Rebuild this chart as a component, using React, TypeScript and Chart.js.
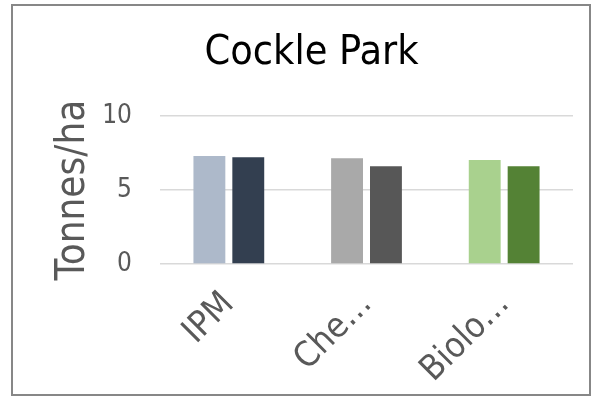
import React, { useEffect, useRef } from "react";
import { Chart, registerables } from "chart.js";

Chart.register(...registerables);

const categories = ["IPM", "Che…", "Biolo…"];
const series1Values = [7.3, 7.15, 7.03];
const series2Values = [7.23, 6.62, 6.62];
const series1Colors = ["#adb9ca", "#a9a9a9", "#a9d18e"];
const series2Colors = ["#333f50", "#575757", "#548235"];
const yTicks = [0, 5, 10];

const FONT = "'Liberation Sans Narrow', 'DejaVu Sans Condensed', sans-serif";

export default function App() {
  const canvasRef = useRef<HTMLCanvasElement>(null);

  useEffect(() => {
    if (!canvasRef.current) return;
    const chart = new Chart(canvasRef.current, {
      type: "bar",
      data: {
        labels: categories,
        datasets: [
          {
            label: "Series 1",
            data: series1Values,
            backgroundColor: series1Colors,
            barPercentage: 0.82,
            categoryPercentage: 0.565,
          },
          {
            label: "Series 2",
            data: series2Values,
            backgroundColor: series2Colors,
            barPercentage: 0.82,
            categoryPercentage: 0.565,
          },
        ],
      },
      options: {
        animation: false,
        responsive: false,
        maintainAspectRatio: false,
        layout: { padding: { left: 50, right: 18, top: 29, bottom: 0 } },
        plugins: {
          legend: { display: false },
          tooltip: { enabled: false },
          title: {
            display: true,
            text: "Cockle Park",
            color: "#000000",
            font: { family: FONT, size: 41, weight: "normal" },
            padding: { top: 0, bottom: 38 },
          },
        },
        scales: {
          x: {
            grid: { display: false, drawTicks: false },
            border: { display: false },
            ticks: {
              autoSkip: false,
              maxRotation: 45,
              minRotation: 45,
              color: "#595959",
              padding: 20,
              font: { family: FONT, size: 35 },
            },
            afterFit: (scale: any) => {
              scale.height = 132;
            },
          },
          y: {
            min: 0,
            max: 10,
            afterBuildTicks: (scale: any) => {
              scale.ticks = yTicks.map((v) => ({ value: v }));
            },
            grid: { color: "#d9d9d9", lineWidth: 1.5, drawTicks: false },
            border: { display: false },
            ticks: {
              color: "#595959",
              padding: 28,
              font: { family: FONT, size: 26 },
            },
            title: {
              display: true,
              text: "Tonnes/ha",
              color: "#595959",
              padding: 0,
              font: { family: FONT, size: 40, weight: "normal" },
            },
            afterFit: (scale: any) => {
              scale.width = 110;
            },
          },
        },
      },
    });
    return () => chart.destroy();
  }, []);

  return (
    <div style={{ position: "absolute", left: 0, top: 0, width: 591, height: 396, background: "#ffffff" }}>
      <canvas ref={canvasRef} width={591} height={396} style={{ position: "absolute", left: 0, top: 0 }} />
      <div
        style={{
          position: "absolute",
          left: 11,
          top: 4,
          width: 580,
          height: 392,
          boxSizing: "border-box",
          border: "2px solid #878787",
          pointerEvents: "none",
        }}
      />
    </div>
  );
}
